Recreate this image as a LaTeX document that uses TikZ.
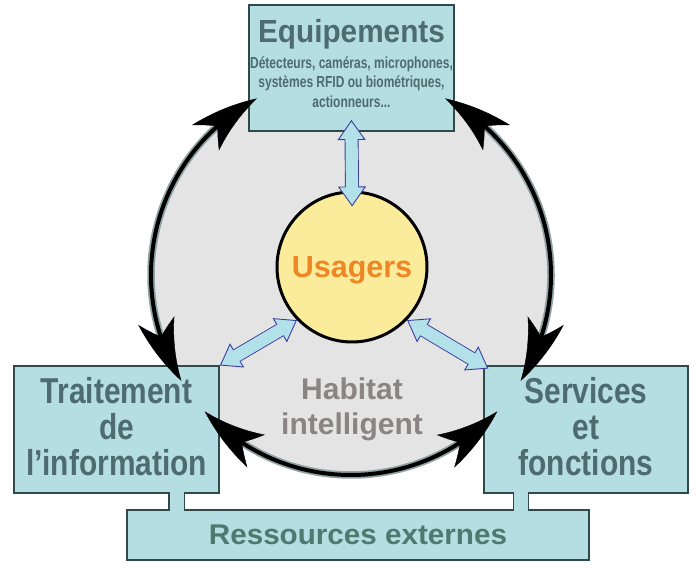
\documentclass[tikz,border=0pt]{standalone}
\usepackage{fontspec}
\setmainfont{Liberation Sans}
\newfontfamily\fTitle[FakeStretch=0.93]{Liberation Sans}
\newfontfamily\fSub[FakeStretch=0.75]{Liberation Sans}
\newfontfamily\fBox[FakeStretch=0.83]{Liberation Sans}
\newfontfamily\fRes[FakeStretch=1.04]{Liberation Sans}
\usetikzlibrary{arrows.meta,bending,calc}
\definecolor{habgrey}{HTML}{E4E4E4}
\definecolor{boxfill}{HTML}{B5DEE2}
\definecolor{boxedge}{HTML}{2F4A4A}
\definecolor{boxtext}{HTML}{4E6B6F}
\definecolor{restext}{HTML}{4D7A70}
\definecolor{habtext}{HTML}{8A8484}
\definecolor{usafill}{HTML}{FBEC9C}
\definecolor{usatext}{HTML}{EE8626}
\definecolor{fatfill}{HTML}{B3E1EA}
\definecolor{fatline}{HTML}{3D3D9E}
\definecolor{arcgrey}{HTML}{8FA3A3}
\tikzset{
  infobox/.style={draw=boxedge, line width=1.2pt, fill=boxfill, text=boxtext, align=center, inner sep=0pt, outer sep=0pt},
  arcbase/.style={line width=7.5pt, draw=arcgrey},
  arcarrow/.style={line width=4pt, draw=black, {Stealth[length=66pt,width=37pt,inset=17pt,bend,line width=0.4pt]}-{Stealth[length=66pt,width=37pt,inset=17pt,bend,line width=0.4pt]}},
  fatedge/.style={line width=14pt, draw=fatline, {Triangle[length=20pt,width=28pt,line width=0.9pt,fill=fatfill,color=fatline]}-{Triangle[length=20pt,width=28pt,line width=0.9pt,fill=fatfill,color=fatline]}},
  fatcore/.style={line width=12.2pt, draw=fatfill},
  stemedge/.style={line width=16.4pt, draw=boxedge},
  stemcore/.style={line width=14pt, draw=boxfill, shorten <=-1.4pt, shorten >=-1.4pt},
}
\begin{document}
\begin{tikzpicture}[x=1pt,y=1pt]
\useasboundingbox (0,0) rectangle (696,575);
\fill[white] (0,0) rectangle (696,575);

% habitat disc
\node[circle, fill=habgrey, minimum size=400pt, inner sep=0pt, outer sep=0pt] (hab) at (351,300) {};

% users
\node[circle, fill=usafill, draw=black, line width=3pt, minimum size=150pt, inner sep=0pt,
      text=usatext, font=\bfseries\fontsize{30.5}{30}\selectfont, text depth=0pt] (usagers) at (352,308) {Usagers};

% habitat label
\node[text=habtext, align=center, font=\bfseries\fontsize{30}{35}\selectfont] (habtxt) at (352,166) {Habitat\\intelligent};

% boxes
\node[infobox, minimum width=205pt, minimum height=126pt, text depth=10pt,
      font=\fSub\bfseries\fontsize{16}{19.5}\selectfont] (equip) at (351.5,507)
  {{\fTitle\bfseries\fontsize{32}{32}\selectfont Equipements}\\[6.5pt]
   Détecteurs, caméras, microphones,\\
   systèmes RFID ou biométriques,\\
   actionneurs...};
\node[infobox, minimum width=205pt, minimum height=127pt, text depth=7pt,
      font=\fBox\bfseries\fontsize{36}{36}\selectfont] (trait) at (116.5,145.5)
  {Traitement\\de\\l’information};
\node[infobox, minimum width=204pt, minimum height=127pt, text depth=7pt,
      font=\fBox\bfseries\fontsize{36}{36}\selectfont] (serv) at (586,145.5)
  {Services\\et\\fonctions};
\node[infobox, minimum width=462pt, minimum height=50pt, text=restext,
      font=\fRes\bfseries\fontsize{28.5}{30}\selectfont] (ress) at (358,40)
  {Ressources externes};

% stems to external resources
\draw[stemedge] ([xshift=60pt]trait.south) -- ([xshift=60pt]trait.south |- ress.north);
\draw[stemcore] ([xshift=60pt]trait.south) -- ([xshift=60pt]trait.south |- ress.north);
\draw[stemedge] ([xshift=-65pt]serv.south) -- ([xshift=-65pt]serv.south |- ress.north);
\draw[stemcore] ([xshift=-65pt]serv.south) -- ([xshift=-65pt]serv.south |- ress.north);

% circular arrows (grey rim under black shaft)
\draw[arcbase] (hab.132) arc[start angle=132, end angle=198, radius=200pt];
\draw[arcarrow] (hab.118) arc[start angle=118, end angle=212, radius=200pt];
\draw[arcbase] (hab.48) arc[start angle=48, end angle=-18, radius=200pt];
\draw[arcarrow] (hab.62) arc[start angle=62, end angle=-32, radius=200pt];
\draw[arcbase] (hab.237) arc[start angle=237, end angle=303, radius=200pt];
\draw[arcarrow] (hab.223) arc[start angle=223, end angle=317, radius=200pt];

% light blue double arrows
\draw[fatedge, shorten <=-16pt, shorten >=-11pt] (usagers.north) -- (equip.south);
\draw[fatcore, shorten <=1pt, shorten >=6pt] (usagers.north) -- (equip.south);
\draw[fatedge, shorten >=1pt] (usagers.224) -- (trait.north east);
\draw[fatcore, shorten <=17pt, shorten >=18pt] (usagers.224) -- (trait.north east);
\draw[fatedge, shorten >=-5pt] (usagers.316) -- (serv.north west);
\draw[fatcore, shorten <=17pt, shorten >=12pt] (usagers.316) -- (serv.north west);
\end{tikzpicture}
\end{document}
